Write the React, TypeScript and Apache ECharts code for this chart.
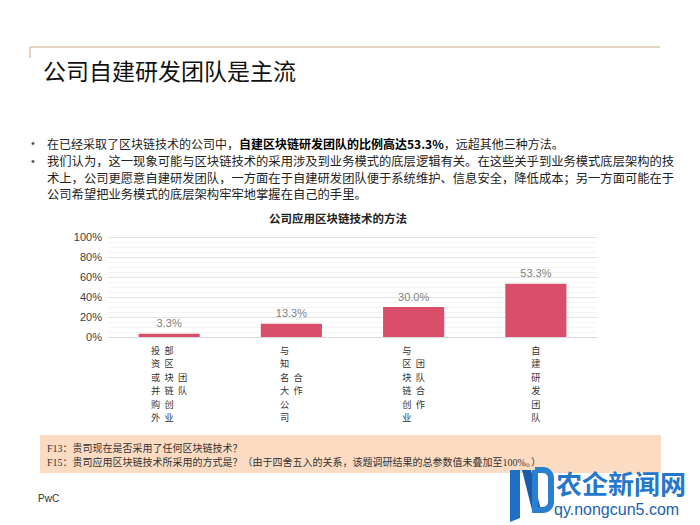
import React, { useEffect, useRef } from "react";
import * as echarts from "echarts";

const categories = [
  "投资或并购外部区块链创业团队",
  "与知名大公司合作",
  "与区块链创业团队合作",
  "自建研发团队",
];
const shares = [3.3, 13.3, 30.0, 53.3];
const yTickMax = 100;
const yTickStep = 20;

const pageTitle = "公司自建研发团队是主流";
const chartTitle = "公司应用区块链技术的方法";
const bullet1Plain = "在已经采取了区块链技术的公司中，";
const bullet1Bold = "自建区块链研发团队的比例高达53.3%";
const bullet1Tail = "，远超其他三种方法。";
const bullet2Lines = [
  "我们认为，这一现象可能与区块链技术的采用涉及到业务模式的底层逻辑有关。在这些关乎到业务模式底层架构的技",
  "术上，公司更愿意自建研发团队，一方面在于自建研发团队便于系统维护、信息安全，降低成本；另一方面可能在于",
  "公司希望把业务模式的底层架构牢牢地掌握在自己的手里。",
];
const footnotes = [
  "F13：贵司现在是否采用了任何区块链技术？",
  "F15：贵司应用区块链技术所采用的方式是？（由于四舍五入的关系，该题调研结果的总参数值未叠加至100%。）",
];
const sourceLabel = "PwC";
const watermarkName = "农企新闻网";
const watermarkUrl = "qy.nongcun5.com";

const CJK = '"Noto Sans CJK SC", "Noto Sans", sans-serif';
const ROWS = 6;

function verticalLabel(name: string): string {
  const chars = Array.from(name);
  const cols = Math.ceil(chars.length / ROWS);
  const grid: string[][] = [];
  for (let r = 0; r < ROWS; r++) grid.push(new Array(cols).fill(""));
  for (let c = 0; c < cols; c++) {
    const seg = chars.slice(c * ROWS, (c + 1) * ROWS);
    const off = Math.floor((ROWS - seg.length) / 2);
    seg.forEach((ch, i) => {
      grid[off + i][c] = ch;
    });
  }
  return grid
    .map((row) => row.map((ch) => `{c|${ch || "\u3000"}}`).join(""))
    .join("\n");
}

export default function App() {
  const ref = useRef<HTMLDivElement>(null);
  useEffect(() => {
    if (!ref.current) return;
    const chart = echarts.init(ref.current, undefined, { renderer: "svg" });
    const textColor = "#222";
    chart.setOption({
      animation: false,
      backgroundColor: "#ffffff",
      grid: { left: 108, right: 103, top: 237, bottom: 188 },
      xAxis: {
        type: "category",
        data: categories,
        axisLine: { show: true, lineStyle: { color: "#d9d9d9" } },
        axisTick: { show: false },
        axisLabel: {
          interval: 0,
          margin: 6,
          formatter: (v: string) => verticalLabel(v),
          rich: {
            c: {
              width: 13.5,
              align: "center",
              fontSize: 9.2,
              lineHeight: 13.5,
              color: "#333",
              fontFamily: CJK,
            },
          },
        },
      },
      yAxis: {
        type: "value",
        min: 0,
        max: yTickMax,
        interval: yTickStep,
        axisLine: { show: false },
        axisTick: { show: false },
        axisLabel: {
          formatter: "{value}%",
          fontSize: 11,
          color: "#404040",
          fontFamily: "Arial, 'Liberation Sans', sans-serif",
          margin: 6,
        },
        splitLine: { lineStyle: { color: "#e3e3e3", width: 1 } },
        minorTick: { show: false, splitNumber: 4 },
        minorSplitLine: { show: true, lineStyle: { color: "#f4f4f4", width: 1 } },
      },
      series: [
        {
          type: "bar",
          data: shares,
          barWidth: "50%",
          itemStyle: { color: "#d94f6a" },
          label: {
            show: true,
            position: "top",
            distance: 5,
            formatter: (p: any) => `${Number(p.value).toFixed(1)}%`,
            fontSize: 11,
            color: "#7f7f7f",
            fontFamily: "Arial, 'Liberation Sans', sans-serif",
          },
        },
      ],
      graphic: [
        {
          type: "line",
          shape: { x1: 30, y1: 47, x2: 660, y2: 47 },
          style: { stroke: "#c9aa80", lineWidth: 1 },
        },
        {
          type: "line",
          shape: { x1: 30, y1: 47, x2: 30, y2: 58 },
          style: { stroke: "#c9aa80", lineWidth: 1 },
        },
        {
          type: "text",
          x: 43,
          y: 70,
          style: {
            text: pageTitle,
            fontSize: 23,
            fontFamily: CJK,
            fill: "#111",
            verticalAlign: "middle",
          },
        },
        {
          type: "text",
          x: 31,
          y: 143,
          style: { text: "•", fontSize: 11, fill: "#555", verticalAlign: "middle" },
        },
        {
          type: "text",
          x: 47,
          y: 143,
          style: {
            text: `{n|${bullet1Plain}}{b|${bullet1Bold}}{n|${bullet1Tail}}`,
            verticalAlign: "middle",
            rich: {
              n: { fontSize: 12, fontFamily: CJK, fill: textColor, color: textColor },
              b: {
                fontSize: 12,
                fontFamily: CJK,
                fontWeight: "bold",
                fill: "#000",
                color: "#000",
              },
            },
          },
        },
        {
          type: "text",
          x: 31,
          y: 161,
          style: { text: "•", fontSize: 11, fill: "#555", verticalAlign: "middle" },
        },
        ...bullet2Lines.map((line, i) => ({
          type: "text",
          x: 47,
          y: 161 + i * 16.5,
          style: {
            text: line,
            fontSize: 12.3,
            fontFamily: CJK,
            fill: textColor,
            verticalAlign: "middle",
          },
        })),
        {
          type: "text",
          x: 338,
          y: 218,
          style: {
            text: chartTitle,
            fontSize: 11.5,
            fontWeight: "bold",
            fontFamily: CJK,
            fill: "#222",
            align: "center",
            verticalAlign: "middle",
          },
        },
        {
          type: "rect",
          shape: { x: 40, y: 435, width: 621, height: 38 },
          style: { fill: "#fbdcc3" },
        },
        ...footnotes.map((line, i) => ({
          type: "text",
          x: 47,
          y: 448 + i * 14.5,
          style: {
            text: line,
            fontSize: 10,
            fontFamily: '"Liberation Serif", "Noto Sans CJK SC", serif',
            fill: "#333",
            verticalAlign: "middle",
          },
        })),
        {
          type: "text",
          x: 38,
          y: 498,
          style: {
            text: sourceLabel,
            fontSize: 10,
            fontFamily: "Arial, 'Liberation Sans', sans-serif",
            fill: "#333",
            verticalAlign: "middle",
          },
        },
        // watermark logo
        {
          type: "polygon",
          shape: {
            points: [
              [510, 470],
              [520, 470],
              [520, 518],
              [510, 522],
            ],
          },
          style: { fill: "#1f6fc4" },
        },
        {
          type: "polygon",
          shape: {
            points: [
              [522, 470],
              [531, 470],
              [541, 510],
              [532, 510],
            ],
          },
          style: { fill: "#1a5aa8" },
        },
        {
          type: "rect",
          shape: { x: 535, y: 470, width: 16, height: 40, r: [0, 8, 8, 0] },
          style: { fill: "none", stroke: "#2a7fd0", lineWidth: 6 },
        },
        {
          type: "text",
          x: 556,
          y: 482,
          style: {
            text: watermarkName,
            fontSize: 26,
            fontWeight: "bold",
            fontFamily: CJK,
            fill: "#2478cc",
            verticalAlign: "middle",
          },
        },
        {
          type: "text",
          x: 554,
          y: 509,
          style: {
            text: watermarkUrl,
            fontSize: 16,
            fontFamily: "Arial, 'Liberation Sans', sans-serif",
            fill: "#1b5fae",
            verticalAlign: "middle",
          },
        },
      ],
    });
    return () => chart.dispose();
  }, []);
  return (
    <div
      ref={ref}
      style={{ position: "absolute", left: 0, top: 0, width: 700, height: 525 }}
    />
  );
}
